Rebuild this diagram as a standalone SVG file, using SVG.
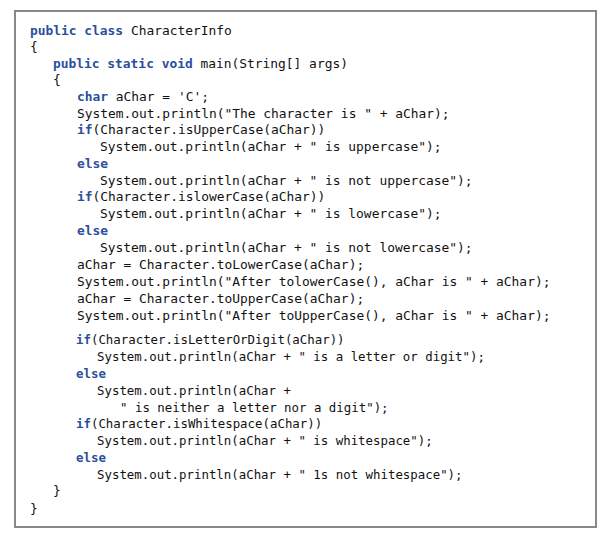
<svg xmlns="http://www.w3.org/2000/svg" width="612" height="538" viewBox="0 0 612 538">
<style>
text{font-family:"DejaVu Sans Mono","Liberation Mono",monospace;font-size:12.9px;fill:#111;white-space:pre}
.s{font-size:12.4px}
.k{fill:#2b4f9e;font-weight:bold}
</style>
<rect width="612" height="538" fill="#fff"/>
<rect x="15" y="11" width="581" height="516" fill="none" stroke="#888" stroke-width="2"/>
<g id="code">
<text x="30" y="35"><tspan class="k">public class</tspan> CharacterInfo</text>
<text x="30" y="51">{</text>
<text x="53" y="68"><tspan class="k">public static void</tspan> main(String[] args)</text>
<text x="53" y="84">{</text>
<text x="77" y="101"><tspan class="k">char</tspan> aChar = 'C';</text>
<text x="77" y="118">System.out.println("The character is " + aChar);</text>
<text x="77" y="134"><tspan class="k">if</tspan>(Character.isUpperCase(aChar))</text>
<text x="100" y="151">System.out.println(aChar + " is uppercase");</text>
<text x="77" y="168" class="k">else</text>
<text x="100" y="185">System.out.println(aChar + " is not uppercase");</text>
<text x="77" y="201"><tspan class="k">if</tspan>(Character.islowerCase(aChar))</text>
<text x="100" y="218">System.out.println(aChar + " is lowercase");</text>
<text x="77" y="235" class="k">else</text>
<text x="100" y="252">System.out.println(aChar + " is not lowercase");</text>
<text x="77" y="269">aChar = Character.toLowerCase(aChar);</text>
<text x="77" y="286">System.out.println("After tolowerCase(), aChar is " + aChar);</text>
<text x="77" y="303">aChar = Character.toUpperCase(aChar);</text>
<text x="77" y="320">System.out.println("After toUpperCase(), aChar is " + aChar);</text>
<text class="s" x="76" y="344"><tspan class="k">if</tspan>(Character.isLetterOrDigit(aChar))</text>
<text class="s" x="97" y="361">System.out.println(aChar + " is a letter or digit");</text>
<text class="s k" x="76" y="378">else</text>
<text class="s" x="97" y="395">System.out.println(aChar +</text>
<text class="s" x="120" y="412">" is neither a letter nor a digit");</text>
<text class="s" x="76" y="428"><tspan class="k">if</tspan>(Character.isWhitespace(aChar))</text>
<text class="s" x="97" y="445">System.out.println(aChar + " is whitespace");</text>
<text class="s k" x="76" y="462">else</text>
<text class="s" x="97" y="479">System.out.println(aChar + " 1s not whitespace");</text>
<text x="53" y="495">}</text>
<text x="30" y="513">}</text>
</g>
</svg>
